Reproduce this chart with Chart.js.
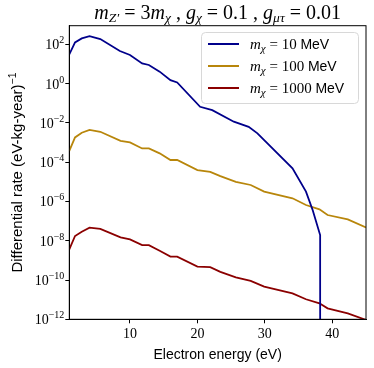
<!DOCTYPE html>
<html>
<head>
<meta charset="utf-8">
<script src="https://cdn.jsdelivr.net/npm/chart.js@4"></script>
<style>
  body { margin: 0; background: #fff; }
</style>
</head>
<body>
<canvas id="rate-chart" width="374" height="368"></canvas>
<script>
// energies (eV) and rates
const energyLight = [1, 1.85, 2.85, 4, 5.6, 8.5, 10, 11.8, 12.8, 14.4, 16, 17, 20.4, 22.2, 25.4, 27.6, 28.9, 34.1, 36.1, 37.1, 38.2, 38.2]
const rate10 = [30.9, 126, 200, 263, 186, 45.7, 28.8, 10.7, 8.9, 4.07, 1.51, 1.15, 0.066, 0.0447, 0.0115, 0.0063, 0.00295, 4.9e-5, 3.16e-6, 3.6e-7, 1.95e-8, 1e-14]

const energyHeavy = [1, 1.85, 2.85, 4, 5.6, 8.6, 10, 11.8, 12.8, 14.4, 16, 17, 20, 21.9, 23.4, 25.7, 27.9, 29.9, 34.1, 36.1, 38.1, 39.3, 42.3, 45]
const rate100 = [3.8e-4, 1.82e-3, 3.16e-3, 4.37e-3, 3.55e-3, 1.23e-3, 1.02e-3, 5.0e-4, 5.0e-4, 2.82e-4, 1.29e-4, 1.29e-4, 3.98e-5, 3.24e-5, 1.95e-5, 1.0e-5, 6.9e-6, 3.16e-6, 1.45e-6, 6.6e-7, 3.98e-7, 2.04e-7, 1.23e-7, 4.8e-8]
const rate1000 = [3.6e-9, 1.74e-8, 2.9e-8, 4.6e-8, 4.0e-8, 1.48e-8, 1.17e-8, 6.0e-9, 6.0e-9, 3.1e-9, 1.55e-9, 1.55e-9, 4.8e-10, 4.5e-10, 2.6e-10, 1.38e-10, 9.1e-11, 4.6e-11, 2.1e-11, 1.05e-11, 6.5e-12, 3.6e-12, 2.0e-12, 9.3e-13]

const masses = ['10', '100', '1000']
const colors = ['#00008b', '#b8860b', '#8b0000']
const xTicks = [10, 20, 30, 40]
const yPowers = [-12, -10, -8, -6, -4, -2, 0, 2]

const serif = (size, italic) => (italic ? 'italic ' : '') + size + 'px "Liberation Serif"'
const sans = (size) => size + 'px "Liberation Sans"'

// draw a run of text pieces (different fonts / baseline shifts)
function drawRich(ctx, segs, x, y, align) {
  let total = 0
  for (let s of segs) {
    ctx.font = s.f
    s.w = ctx.measureText(s.t).width
    total += s.w
  }
  let cx = x
  if (align === 'center') cx = x - total / 2
  if (align === 'right') cx = x - total
  ctx.textAlign = 'left'
  ctx.textBaseline = 'alphabetic'
  for (let s of segs) {
    ctx.font = s.f
    ctx.fillText(s.t, cx, y + (s.dy || 0))
    cx += s.w
  }
}

const frameAndText = {
  id: 'frameAndText',
  afterDraw(chart) {
    const ctx = chart.ctx
    const a = chart.chartArea
    ctx.save()
    ctx.strokeStyle = '#000'
    ctx.lineWidth = 1
    ctx.strokeRect(a.left, a.top, a.right - a.left, a.bottom - a.top)
    ctx.fillStyle = '#000'

    // title
    drawRich(ctx, [
      { t: 'm', f: serif(20, true) }, { t: 'Z′', f: serif(13.5, true), dy: 3 },
      { t: ' = 3', f: serif(20) }, { t: 'm', f: serif(20, true) }, { t: 'χ', f: serif(13.5, true), dy: 3 },
      { t: ' , ', f: serif(20) }, { t: 'g', f: serif(20, true) }, { t: 'χ', f: serif(13.5, true), dy: 3 },
      { t: ' = 0.1 , ', f: serif(20) }, { t: 'g', f: serif(20, true) }, { t: 'μτ', f: serif(13.5, true), dy: 3 },
      { t: ' = 0.01', f: serif(20) }
    ], (a.left + a.right) / 2, 19, 'center')

    // y tick labels 10^n
    const ys = chart.scales.y
    for (let p of yPowers) {
      const py = ys.getPixelForValue(Math.pow(10, p))
      drawRich(ctx, [
        { t: '10', f: serif(14) },
        { t: String(p).replace('-', '−'), f: serif(10), dy: -6 }
      ], a.left - 5, py + 5, 'right')
    }

    // y axis title
    ctx.save()
    ctx.translate(17, (a.top + a.bottom) / 2)
    ctx.rotate(-Math.PI / 2)
    drawRich(ctx, [
      { t: 'Differential rate (eV-kg-year)', f: sans(15) },
      { t: '−1', f: sans(10.5), dy: -6 }
    ], 0, 5, 'center')
    ctx.restore()

    // legend box
    const bx = 201, by = 32, bw = 157, bh = 71, r = 4
    ctx.beginPath()
    ctx.roundRect(bx + 0.5, by + 0.5, bw, bh, r)
    ctx.fillStyle = 'rgba(255,255,255,0.8)'
    ctx.fill()
    ctx.strokeStyle = '#d8d8d8'
    ctx.stroke()
    chart.data.datasets.forEach((ds, i) => {
      const ly = 44 + i * 22
      ctx.strokeStyle = ds.borderColor
      ctx.lineWidth = 2
      ctx.beginPath()
      ctx.moveTo(208, ly)
      ctx.lineTo(239, ly)
      ctx.stroke()
      ctx.fillStyle = '#000'
      drawRich(ctx, [
        { t: 'm', f: serif(15, true) }, { t: 'χ', f: serif(11, true), dy: 3 },
        { t: ' = ' + masses[i] + ' ', f: serif(15) }, { t: 'MeV', f: sans(14) }
      ], 250, ly + 5, 'left')
    })
    ctx.restore()
  }
}

const mkData = (xs, ys) => xs.map((x, i) => ({ x: x, y: ys[i] }))

new Chart(document.getElementById('rate-chart'), {
  type: 'line',
  data: {
    datasets: [
      { label: 'm = 10 MeV', data: mkData(energyLight, rate10) },
      { label: 'm = 100 MeV', data: mkData(energyHeavy, rate100) },
      { label: 'm = 1000 MeV', data: mkData(energyHeavy, rate1000) }
    ].map((d, i) => Object.assign(d, {
      borderColor: colors[i],
      backgroundColor: colors[i],
      borderWidth: 1.8,
      pointRadius: 0,
      tension: 0,
      fill: false
    }))
  },
  options: {
    responsive: false,
    animation: false,
    layout: { padding: { top: 25.7, right: 8, left: 0, bottom: 0 } },
    plugins: { legend: { display: false }, tooltip: { enabled: false } },
    scales: {
      x: {
        type: 'linear',
        min: 1,
        max: 45,
        afterBuildTicks: (axis) => { axis.ticks = xTicks.map(v => ({ value: v })) },
        afterFit: (axis) => { axis.height = 48.7 },
        grid: { drawOnChartArea: false, color: '#000', tickLength: 4 },
        border: { color: '#000' },
        ticks: { color: '#000', font: { family: 'Liberation Serif', size: 14 }, padding: 3, maxRotation: 0 },
        title: { display: true, text: 'Electron energy (eV)', color: '#000', font: { family: 'Liberation Sans', size: 14 }, padding: { top: 0 } }
      },
      y: {
        type: 'logarithmic',
        min: Math.pow(10, -12),
        max: Math.pow(10, 2.95),
        afterBuildTicks: (axis) => { axis.ticks = yPowers.map(p => ({ value: Math.pow(10, p) })) },
        afterFit: (axis) => { axis.width = 69.3 },
        grid: { drawOnChartArea: false, color: '#000', tickLength: 4 },
        border: { color: '#000' },
        ticks: { display: false }
      }
    }
  },
  plugins: [frameAndText]
})
</script>
</body>
</html>
